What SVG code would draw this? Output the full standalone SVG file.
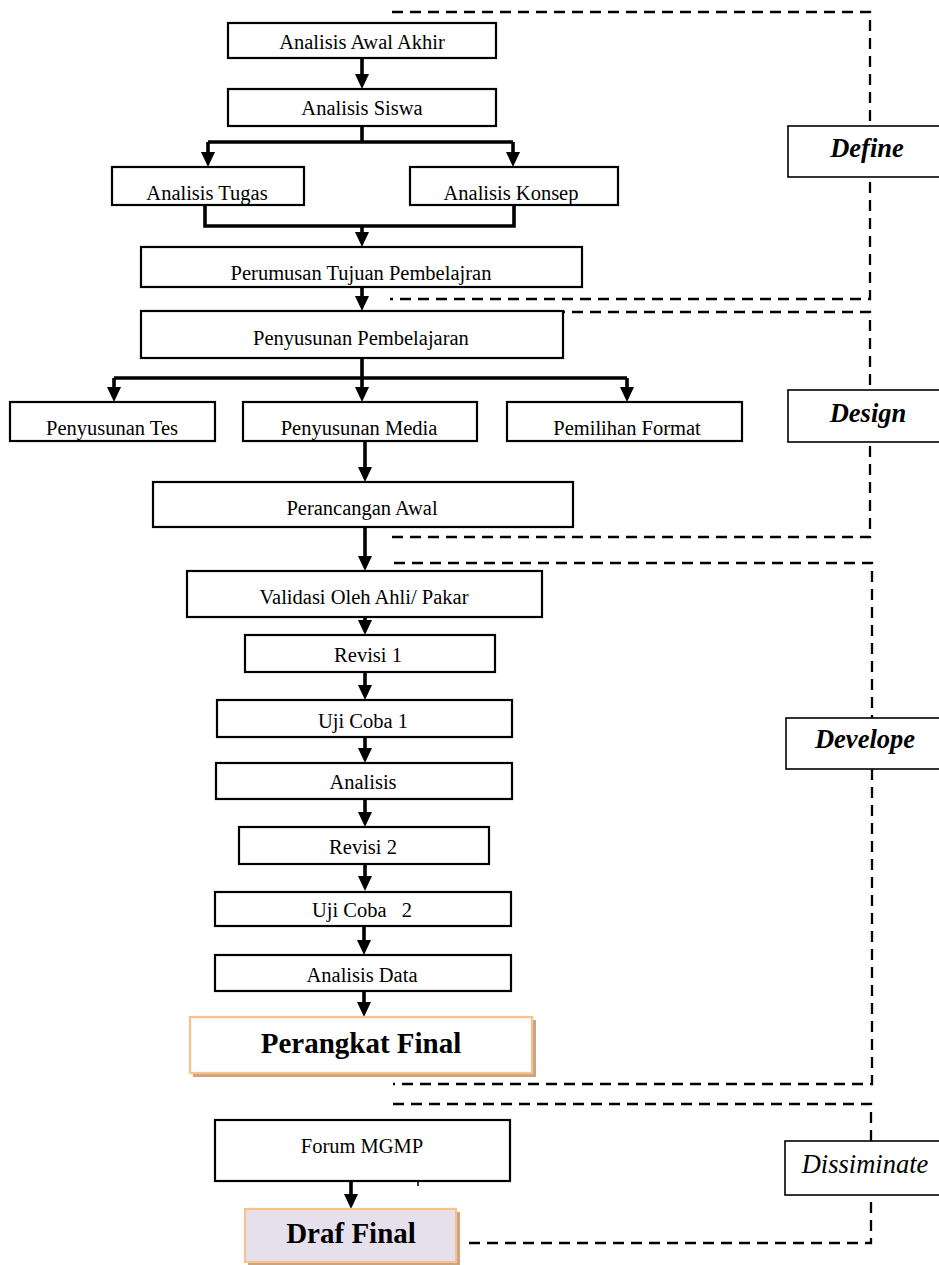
<svg xmlns="http://www.w3.org/2000/svg" width="939" height="1265" viewBox="0 0 939 1265">
<style>
.box{fill:#fff;stroke:#000;stroke-width:2.2}
.lbl{fill:#fff;stroke:#000;stroke-width:1.6}
.t{font-family:"Liberation Serif","Times New Roman",serif;font-size:20.5px;fill:#000;text-anchor:middle;white-space:pre}
.tb{font-family:"Liberation Serif","Times New Roman",serif;font-size:29px;font-weight:bold;fill:#000;text-anchor:middle}
.ti{font-family:"Liberation Serif","Times New Roman",serif;font-size:26.5px;font-style:italic;font-weight:bold;fill:#000;text-anchor:middle}
.tin{font-family:"Liberation Serif","Times New Roman",serif;font-size:26.5px;font-style:italic;fill:#000;text-anchor:middle}
.con{fill:none;stroke:#000;stroke-width:3.6}
.arr{fill:none;stroke:#000;stroke-width:3.6;marker-end:url(#ah)}
.dash{fill:none;stroke:#000;stroke-width:2.3;stroke-dasharray:11 7}
.fin{fill:#fff;stroke:#f7c291;stroke-width:2.2}
.shadow{fill:#c9a582}
</style>
<defs>
<marker id="ah" markerUnits="userSpaceOnUse" markerWidth="15" markerHeight="14" viewBox="0 0 15 14" refX="7" refY="7" orient="auto">
<path d="M0,0 L15,7 L0,14 z" fill="#000"/>
</marker>
</defs>
<rect width="939" height="1265" fill="#fff"/>

<g id="phases">
<path class="dash" d="M392,12 H870 V299 H390"/>
<path class="dash" d="M392,312 H870 V537 H392"/>
<path class="dash" d="M394,563 H872 V1084 H393"/>
<path class="dash" d="M393,1104 H871 V1243 H467"/>
</g>

<g id="connectors">
<path class="arr" d="M362,58 V81"/>
<path class="con" d="M362,126 V142 M208,142 H513"/>
<path class="arr" d="M208,142 V159"/>
<path class="arr" d="M513,142 V159"/>
<path class="con" d="M205,205 V226 H514 V205"/>
<path class="arr" d="M362,226 V239"/>
<path class="arr" d="M362,287 V303"/>
<path class="con" d="M362,358 V378 M114,378 H627"/>
<path class="arr" d="M114,378 V394"/>
<path class="arr" d="M362,378 V394"/>
<path class="arr" d="M627,378 V394"/>
<path class="arr" d="M365,442 V474"/>
<path class="arr" d="M365,527 V563"/>
<path class="arr" d="M365,617 V627"/>
<path class="arr" d="M365,672 V692"/>
<path class="arr" d="M365,737 V755"/>
<path class="arr" d="M365,799 V819"/>
<path class="arr" d="M365,864 V883"/>
<path class="arr" d="M364,926 V947"/>
<path class="arr" d="M364,991 V1009"/>
<path class="arr" d="M351,1181 V1201"/>
<path d="M418,1181 V1186" stroke="#000" stroke-width="1.5"/>
</g>

<g id="n-awal"><rect class="box" x="228" y="23" width="268" height="35"/><text class="t" x="362" y="49">Analisis Awal Akhir</text></g>
<g id="n-siswa"><rect class="box" x="228" y="89" width="268" height="37"/><text class="t" x="362" y="115">Analisis Siswa</text></g>
<g id="n-tugas"><rect class="box" x="112" y="167" width="192" height="38"/><text class="t" x="207" y="200">Analisis Tugas</text></g>
<g id="n-konsep"><rect class="box" x="410" y="167" width="208" height="38"/><text class="t" x="511" y="200">Analisis Konsep</text></g>
<g id="n-perumusan"><rect class="box" x="141" y="247" width="441" height="40"/><text class="t" x="361" y="280">Perumusan Tujuan Pembelajran</text></g>
<g id="n-penyusunan"><rect class="box" x="141" y="311" width="422" height="47"/><text class="t" x="361" y="345">Penyusunan Pembelajaran</text></g>
<g id="n-tes"><rect class="box" x="10" y="402" width="205" height="39"/><text class="t" x="112" y="435">Penyusunan Tes</text></g>
<g id="n-media"><rect class="box" x="243" y="402" width="234" height="39"/><text class="t" x="359" y="435">Penyusunan Media</text></g>
<g id="n-format"><rect class="box" x="507" y="402" width="235" height="39"/><text class="t" x="627" y="435">Pemilihan Format</text></g>
<g id="n-perancangan"><rect class="box" x="153" y="482" width="420" height="45"/><text class="t" x="362" y="515">Perancangan Awal</text></g>
<g id="n-validasi"><rect class="box" x="187" y="571" width="355" height="46"/><text class="t" x="364" y="604">Validasi Oleh Ahli/ Pakar</text></g>
<g id="n-revisi1"><rect class="box" x="245" y="635" width="250" height="37"/><text class="t" x="368" y="662">Revisi 1</text></g>
<g id="n-uji1"><rect class="box" x="217" y="700" width="295" height="37"/><text class="t" x="363" y="728">Uji Coba 1</text></g>
<g id="n-analisis"><rect class="box" x="216" y="763" width="296" height="36"/><text class="t" x="363" y="789">Analisis</text></g>
<g id="n-revisi2"><rect class="box" x="239" y="827" width="250" height="37"/><text class="t" x="363" y="854">Revisi 2</text></g>
<g id="n-uji2"><rect class="box" x="215" y="892" width="296" height="34"/><text class="t" x="362" y="917">Uji Coba   2</text></g>
<g id="n-data"><rect class="box" x="215" y="955" width="296" height="36"/><text class="t" x="362" y="982">Analisis Data</text></g>
<g id="n-perangkat"><rect class="shadow" x="193" y="1020" width="343" height="57"/><rect class="fin" x="190" y="1017" width="342" height="56"/><text class="tb" x="361" y="1053">Perangkat Final</text></g>
<g id="n-forum"><rect class="box" x="215" y="1120" width="295" height="61"/><text class="t" x="362" y="1153">Forum MGMP</text></g>
<g id="n-draf"><rect class="shadow" x="248" y="1212" width="212" height="53"/><rect class="fin" x="245" y="1209" width="211" height="53" style="fill:#e5e0ec"/><text class="tb" x="351" y="1243">Draf Final</text></g>

<g id="l-define"><rect class="lbl" x="788" y="126" width="200" height="51"/><text class="ti" x="867" y="157">Define</text></g>
<g id="l-design"><rect class="lbl" x="788" y="390" width="200" height="52"/><text class="ti" x="868" y="422">Design</text></g>
<g id="l-develope"><rect class="lbl" x="786" y="718" width="200" height="51"/><text class="ti" x="865" y="748">Develope</text></g>
<g id="l-dissiminate"><rect class="lbl" x="785" y="1141" width="200" height="54"/><text class="tin" x="865" y="1173">Dissiminate</text></g>
</svg>
